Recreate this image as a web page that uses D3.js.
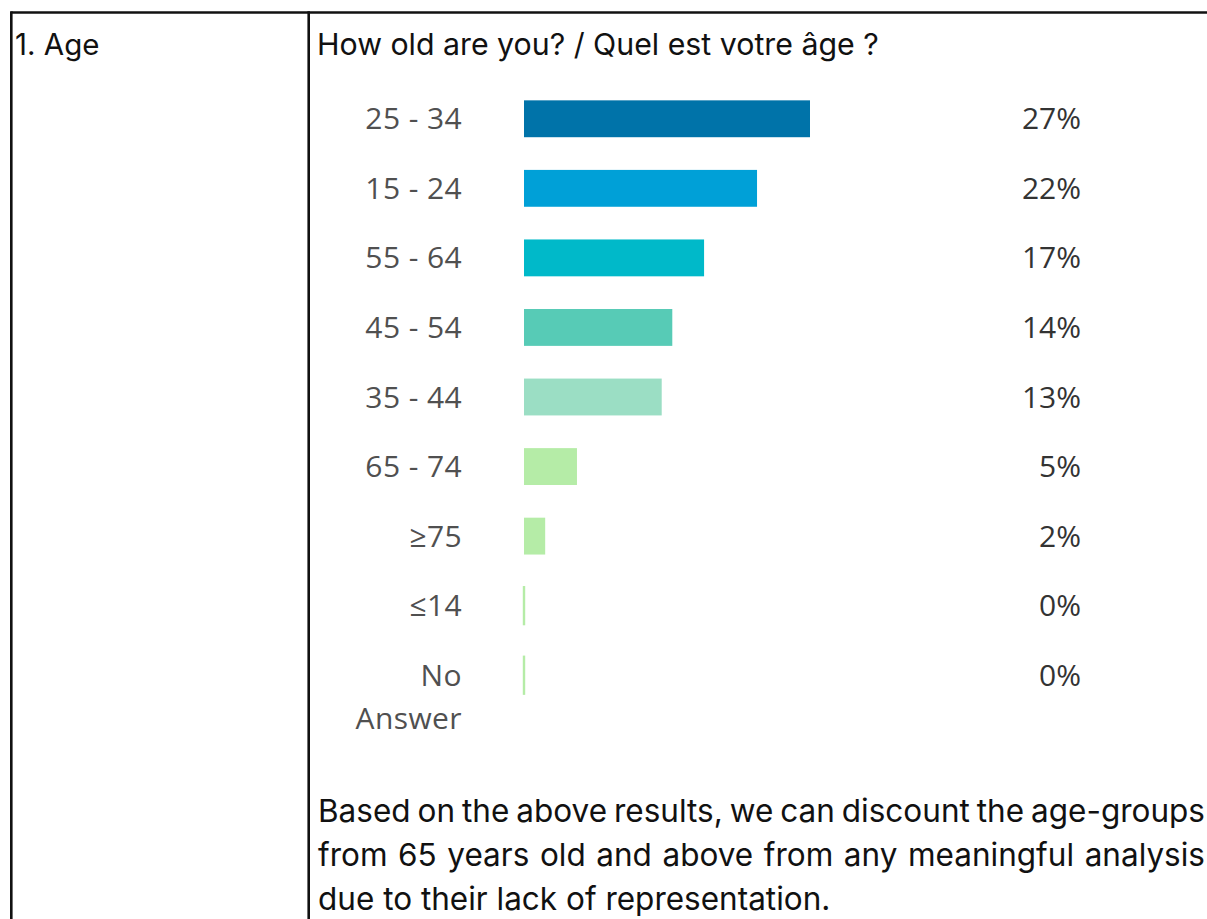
<!DOCTYPE html>
<html>
<head>
<meta charset="utf-8">
<script src="https://cdn.jsdelivr.net/npm/d3@7"></script>
<style>
  html, body { margin: 0; padding: 0; background: #ffffff; }
  svg { display: block; }
</style>
</head>
<body>
<svg id="chart"></svg>
<script>
// Survey section: age distribution of respondents
const sectionLabel = "1. Age";
const question = "How old are you? / Quel est votre âge ?";
const ageGroups = ["25 - 34", "15 - 24", "55 - 64", "45 - 54", "35 - 44", "65 - 74", "≥75", "≤14", "No Answer"];
const shares = [27, 22, 17, 14, 13, 5, 2, 0, 0];
const barColors = ["#0073a9", "#00a0d7", "#00b9c9", "#57cbb6", "#9bdec4", "#b5eca7", "#b5eca7", "#b5eca7", "#b5eca7"];
const commentLines = [
  "Based on the above results, we can discount the age-groups",
  "from 65 years old and above from any meaningful analysis",
  "due to their lack of representation."
];

const W = 1207, H = 919;
const svg = d3.select("#chart").attr("width", W).attr("height", H);

const sansText = "Inter, 'Noto Sans', sans-serif";
const chartFont = "'Open Sans', 'Noto Sans', sans-serif";

// Table frame: outer border and column divider
const frame = svg.append("g").attr("stroke", "#111").attr("stroke-width", 2.6).attr("fill", "none");
frame.append("line").attr("x1", 11.3).attr("x2", W + 5).attr("y1", 12.5).attr("y2", 12.5);
frame.append("line").attr("x1", 11.3).attr("x2", 11.3).attr("y1", 11.2).attr("y2", H + 5);
frame.append("line").attr("x1", 308.7).attr("x2", 308.7).attr("y1", 11.2).attr("y2", H + 5);

svg.append("text")
  .attr("x", 15).attr("y", 55)
  .attr("font-family", sansText).attr("font-size", 29.5).attr("fill", "#111")
  .text(sectionLabel);

svg.append("text")
  .attr("x", 317).attr("y", 55)
  .attr("font-family", sansText).attr("font-size", 30.3).attr("fill", "#111")
  .text(question);

// Horizontal bar chart
const x = d3.scaleLinear().domain([0, 27]).range([524, 810]);
const y = d3.scaleBand().domain(ageGroups).range([84, 710]).paddingInner(0.47).paddingOuter(0.235);

const rows = svg.append("g").selectAll("g.row")
  .data(ageGroups.map((g, i) => ({ group: g, value: shares[i], color: barColors[i] })))
  .join("g").attr("class", "row");

rows.append("rect")
  .attr("x", x(0))
  .attr("y", d => y(d.group))
  .attr("width", d => Math.max(x(d.value) - x(0), 0.01))
  .attr("height", y.bandwidth())
  .attr("fill", d => d.color)
  .attr("stroke", d => d.color)
  .attr("stroke-width", d => d.value === 0 ? 2.4 : 0);

// Category labels (right aligned, multi-word labels wrap)
rows.each(function (d) {
  const cy = y(d.group) + y.bandwidth() / 2;
  const words = d.group === "No Answer" ? ["No", "Answer"] : [d.group];
  const t = d3.select(this).append("text")
    .attr("text-anchor", "end")
    .attr("font-family", chartFont).attr("font-size", 30)
    .attr("letter-spacing", 0.4)
    .attr("fill", "#505050");
  words.forEach((w, k) => {
    t.append("tspan").attr("x", 462).attr("y", cy + 10.5 + k * 43).text(w);
  });
});

// Value labels
rows.append("text")
  .attr("x", 1081).attr("y", d => y(d.group) + y.bandwidth() / 2 + 10.5)
  .attr("text-anchor", "end")
  .attr("font-family", chartFont).attr("font-size", 30)
  .attr("fill", "#333")
  .text(d => d.value + "%");

// Commentary paragraph, justified between the column edges
const textLeft = 318, textRight = 1205;
const lineBase = [821.5, 865.5, 909.5];
const para = svg.append("g")
  .attr("font-family", sansText).attr("font-size", 31.5).attr("fill", "#111");

const measure = s => {
  const probe = para.append("text").text(s);
  const w = probe.node().getComputedTextLength();
  probe.remove();
  return w;
};
const spaceW = measure("a a") - measure("aa");

commentLines.forEach((line, li) => {
  const words = line.split(" ");
  const last = li === commentLines.length - 1;
  const nodes = words.map(w => para.append("text").attr("y", lineBase[li]).text(w));
  const widths = nodes.map(n => n.node().getComputedTextLength());
  const total = d3.sum(widths);
  const gap = last ? spaceW : Math.max((textRight - textLeft - total) / (words.length - 1), spaceW * 0.6);
  let cx = textLeft;
  nodes.forEach((n, i) => { n.attr("x", cx); cx += widths[i] + gap; });
});
</script>
</body>
</html>
